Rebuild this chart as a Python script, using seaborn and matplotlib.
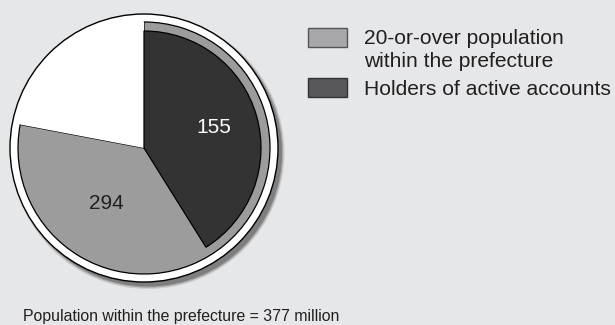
import matplotlib
matplotlib.use("Agg")
import numpy as np
import matplotlib.pyplot as plt
from matplotlib.patches import Circle, Rectangle
import seaborn as sns

# Population figures (in units of 10,000 people)
total_population = 377
adult_population = 294
active_holders = 155

legend_labels = ["20-or-over population\nwithin the prefecture", "Holders of active accounts"]
footnote = f"Population within the prefecture = {total_population} million"

# Colours
bg = "#e6e7e8"
pie_gray = "#9c9c9c"
pie_dark = "#333333"
legend_gray = "#a8a8aa"
legend_dark = "#58585a"
text_color = "#231f20"

sns.set_style("white", {"axes.facecolor": bg, "figure.facecolor": bg})
plt.rcParams["font.family"] = ["Liberation Sans", "DejaVu Sans"]

W, H = 615, 325
fig = plt.figure(figsize=(W / 100, H / 100), dpi=100)
ax = fig.add_axes([0, 0, 1, 1])

cx, cy = 144, H - 148
r_ring, r_pie, r_dark = 134, 126, 117

# Soft drop shadow under the disc
for extra, alpha in [(2.5, 0.25), (1.2, 0.45), (0.0, 0.9)]:
    ax.add_patch(Circle((cx + 4, cy - 4.5), r_ring + extra, facecolor="#7a7a7a",
                        edgecolor="none", alpha=alpha, zorder=0))

# White rim around the pie
ax.add_patch(Circle((cx, cy), r_ring, facecolor="white", edgecolor="black",
                    linewidth=1.0, zorder=1))

# Adult population vs. remainder of the population
adult_wedges, _ = ax.pie(
    [adult_population, total_population - adult_population],
    colors=[pie_gray, "white"], startangle=90, counterclock=False,
    radius=r_pie, center=(cx, cy),
    wedgeprops=dict(edgecolor="black", linewidth=0.9),
)
adult_wedges[1].set_linewidth(0)
for w in adult_wedges:
    w.set_zorder(2)

# Active account holders, drawn slightly inset on top
holder_wedges, _ = ax.pie(
    [active_holders, total_population - active_holders],
    colors=[pie_dark, "none"], startangle=90, counterclock=False,
    radius=r_dark, center=(cx, cy),
    wedgeprops=dict(edgecolor="black", linewidth=0.9),
)
holder_wedges[1].set_visible(False)
holder_wedges[0].set_zorder(3)

# Value labels
a_hold_end = 90 - active_holders / total_population * 360
a_adult_end = 90 - adult_population / total_population * 360
mid_hold = np.deg2rad((90 + a_hold_end) / 2)
mid_adult = np.deg2rad((a_hold_end + a_adult_end) / 2)
ax.text(cx + 73 * np.cos(mid_hold), cy + 73 * np.sin(mid_hold), str(active_holders),
        ha="center", va="center", fontsize=15, color="white", zorder=4)
ax.text(cx + 67 * np.cos(mid_adult), cy + 67 * np.sin(mid_adult), str(adult_population),
        ha="center", va="center", fontsize=15, color=text_color, zorder=4)

# Legend
box_specs = [(legend_gray, "#555557", 28), (legend_dark, "#333333", 78)]
line_baselines = [[44, 67], [95]]
for (fc, ec, top), label, baselines in zip(box_specs, legend_labels, line_baselines):
    ax.add_patch(Rectangle((308, H - top - 19), 39, 19, facecolor=fc, edgecolor=ec,
                           linewidth=1.0, zorder=2))
    for line, yb in zip(label.split("\n"), baselines):
        ax.text(364, H - yb, line, ha="left", va="baseline", fontsize=15.1,
                color=text_color)

ax.text(23, H - 321, footnote, ha="left", va="baseline", fontsize=11.4, color=text_color)

ax.set_xlim(0, W)
ax.set_ylim(0, H)
ax.set_aspect("equal")
ax.set_axis_off()

fig.savefig("out.png", dpi=100, facecolor=fig.get_facecolor())
